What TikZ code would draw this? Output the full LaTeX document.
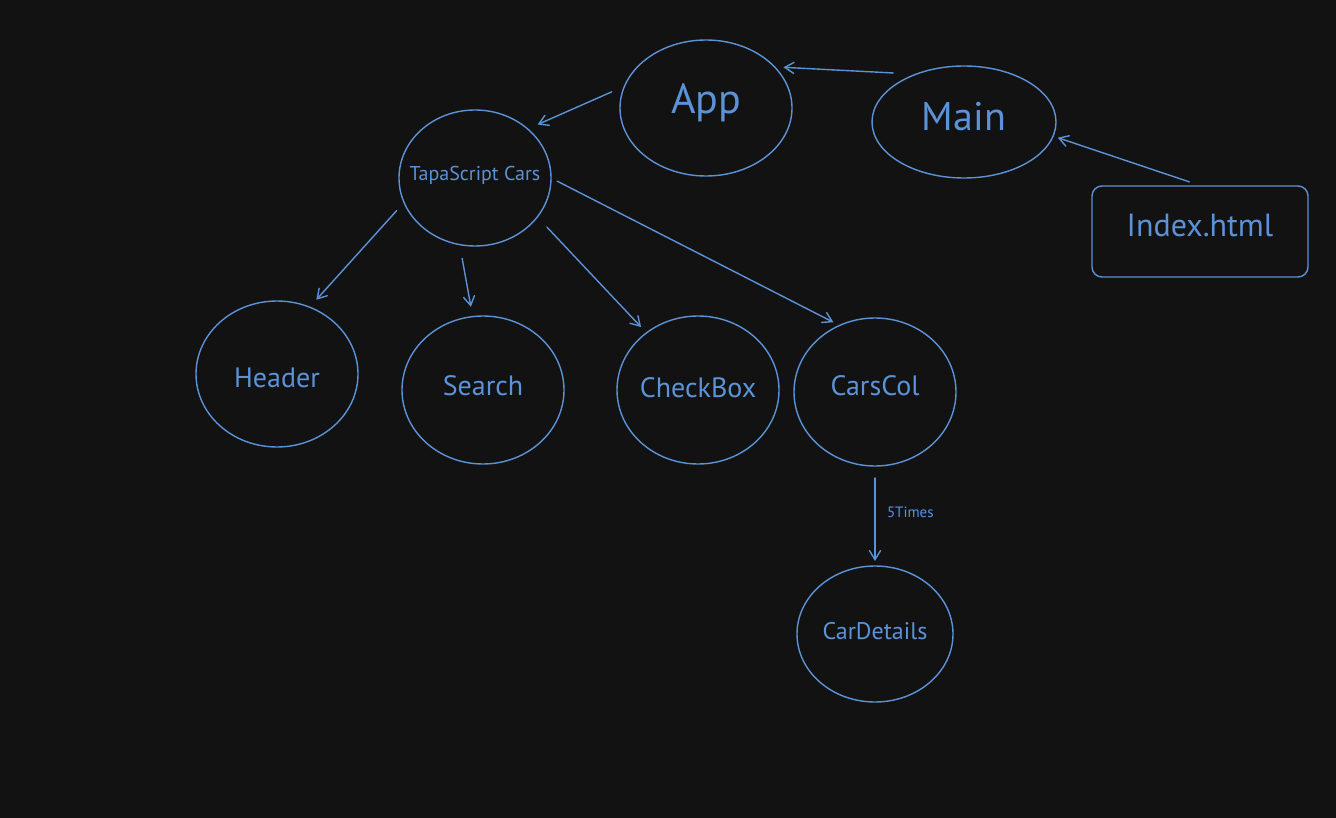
\documentclass[tikz,border=0pt]{standalone}
\usepackage{fontspec}
\setmainfont{PT Sans}
\usetikzlibrary{arrows.meta,shapes.geometric}
\definecolor{bg}{HTML}{121212}
\definecolor{ink}{HTML}{5B92D8}
\newcommand{\fsz}[1]{\fontsize{#1}{#1}\selectfont}
% zero-size text box: capitals centred on the node, raised by #1 pt,
% so the ellipse keeps its given size
\newcommand{\nowid}[2][0]{\makebox[0pt]{\smash{\raisebox{\dimexpr-0.35em+#1pt\relax}{#2}}}}
\begin{document}
\begin{tikzpicture}[x=1pt,y=-1pt,
  bubble/.style={ellipse,draw=ink,line width=1.4pt,inner sep=0pt,outer sep=0pt,text=ink},
  card/.style={rectangle,rounded corners=10pt,draw=ink,line width=1.4pt,inner sep=0pt,outer sep=0pt,text=ink},
  arr/.style={draw=ink,line width=1.4pt,line cap=round,-{Straight Barb[length=9pt,width=11pt,line cap=round]}},
  tag/.style={text=ink,font=\fsz{15}}]
\fill[bg] (0,0) rectangle (1336,818);
\useasboundingbox (0,0) rectangle (1336,818);

% component bubbles
\node[bubble,minimum width=172pt,minimum height=136pt,font=\fsz{42}] (app) at (706,108) {\nowid[9]{App}};
\node[bubble,minimum width=184pt,minimum height=112pt,font=\fsz{40}] (main) at (964,122) {\nowid[5]{Main}};
\node[card,minimum width=216pt,minimum height=91pt,font=\fsz{32}] (idx) at (1200,231.5) {\nowid[6]{Index.html}};
\node[bubble,minimum width=152pt,minimum height=136pt,font=\fsz{20}] (tapa) at (475,178) {\nowid[4]{TapaScript Cars}};
\node[bubble,minimum width=162pt,minimum height=146pt,font=\fsz{28}] (header) at (277,374) {\nowid[-4]{Header}};
\node[bubble,minimum width=162pt,minimum height=148pt,font=\fsz{28}] (search) at (483,390) {\nowid[4]{Search}};
\node[bubble,minimum width=162pt,minimum height=148pt,font=\fsz{28}] (check) at (698,390) {\nowid[2]{CheckBox}};
\node[bubble,minimum width=162pt,minimum height=148pt,font=\fsz{28}] (carscol) at (875,392) {\nowid[6]{CarsCol}};
\node[bubble,minimum width=156pt,minimum height=136pt,font=\fsz{24}] (cardet) at (875,634) {\nowid[3]{CarDetails}};

% connectors
\draw[arr,shorten <=23pt,shorten >=9pt] (main.135) -- (app.31);
\draw[arr,shorten <=13pt,shorten >=5pt] (idx.88) -- (main.-9);
\draw[arr,shorten <=14pt,shorten >=11pt] (app.165) -- (tapa.43);
\draw[arr,shorten <=11pt,shorten >=10pt] (tapa.199) -- (header.64);
\draw[arr,shorten <=14pt,shorten >=10pt] (tapa.257) -- (search.98);
\draw[arr,shorten <=14pt,shorten >=8pt] (tapa.-32) -- (check.132);
\draw[arr,shorten <=7pt,shorten >=7pt] (tapa.0) -- (carscol.118);
\draw[arr,shorten <=12pt,shorten >=5pt] (carscol.south) -- node[tag,pos=0.46,right=8pt] {5Times} (cardet.north);
\end{tikzpicture}
\end{document}
